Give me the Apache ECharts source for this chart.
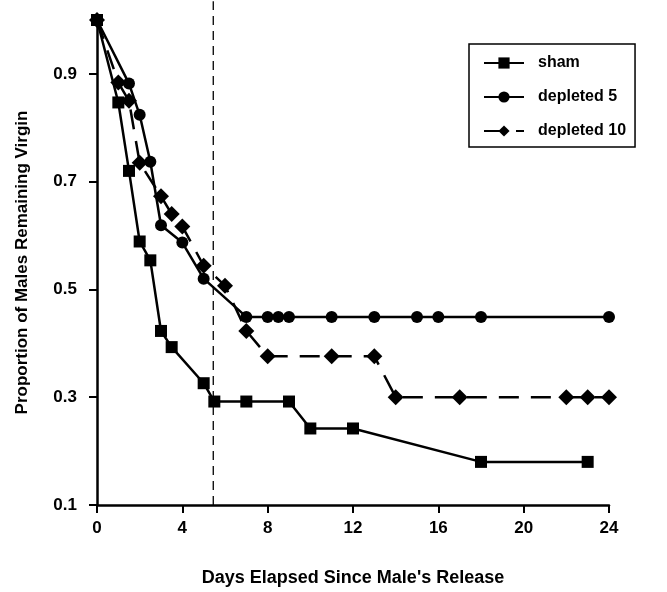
<!DOCTYPE html>
<html><head><meta charset="utf-8">
<script src="https://cdn.jsdelivr.net/npm/echarts@6/dist/echarts.min.js"></script>
<style>html,body{margin:0;padding:0;background:#fff}#c{width:667px;height:592px}</style>
</head><body><div id="c"></div>
<script>
const shamDays = [0,1,1.5,2,2.5,3,3.5,5,5.5,7,9,10,12,18,23];
const shamVals = [1.0,0.847,0.72,0.589,0.554,0.423,0.393,0.326,0.292,0.292,0.292,0.242,0.242,0.18,0.18];
const dep5Days = [0,1.5,2,2.5,3,4,5,7,8,8.5,9,11,13,15,16,18,24];
const dep5Vals = [1.0,0.882,0.824,0.737,0.619,0.587,0.52,0.449,0.449,0.449,0.449,0.449,0.449,0.449,0.449,0.449,0.449];
const dep10Days = [0,1,1.5,2,3,3.5,4,5,6,7,8,11,13,14,17,22,23,24];
const dep10Vals = [1.0,0.884,0.85,0.735,0.673,0.64,0.617,0.544,0.507,0.423,0.376,0.376,0.376,0.3,0.3,0.3,0.3,0.3];
const xTicks = [0,4,8,12,16,20,24];
const yTicks = [0.1,0.3,0.5,0.7,0.9];
const releaseDay = 5.45;
const releaseSpan = [0.1, 1.035];

const pairs = (xs, ys) => xs.map((x, i) => [x, ys[i]]);
const FONT = 'Liberation Sans';
const chart = echarts.init(document.getElementById('c'), null, {renderer: 'canvas'});
chart.setOption({
  animation: false,
  backgroundColor: '#fff',
  grid: {left: 97, right: 58, top: 20, bottom: 87},
  xAxis: {
    type: 'value', min: 0, max: 24, interval: 4,
    name: "Days Elapsed Since Male's Release", nameLocation: 'middle', nameGap: 64,
    nameTextStyle: {fontFamily: FONT, fontWeight: 'bold', fontSize: 18, color: '#000'},
    axisLine: {lineStyle: {color: '#000', width: 2.5}},
    axisTick: {show: true, length: 8, customValues: xTicks, lineStyle: {color: '#000', width: 2}},
    axisLabel: {fontFamily: FONT, fontWeight: 'bold', fontSize: 17, color: '#000', margin: 15, customValues: xTicks},
    splitLine: {show: false}
  },
  yAxis: {
    type: 'value', min: 0.1, max: 1.0,
    name: 'Proportion of Males Remaining Virgin', nameLocation: 'middle', nameGap: 66,
    nameTextStyle: {fontFamily: FONT, fontWeight: 'bold', fontSize: 17, color: '#000'},
    axisLine: {show: true, lineStyle: {color: '#000', width: 2.5}},
    axisTick: {show: true, length: 8, customValues: yTicks, lineStyle: {color: '#000', width: 2}},
    axisLabel: {fontFamily: FONT, fontWeight: 'bold', fontSize: 17, color: '#000', margin: 20,
      customValues: yTicks, formatter: v => v.toFixed(1)},
    splitLine: {show: false}
  },
  legend: {
    orient: 'vertical', left: 469, top: 44,
    backgroundColor: '#fff', borderColor: '#000', borderWidth: 1.5,
    padding: [11, 9, 8, 14], itemWidth: 40, itemHeight: 14, itemGap: 18,
    textStyle: {fontFamily: FONT, fontWeight: 'bold', fontSize: 16, color: '#000', padding: [0, 0, 0, 9]},
    data: ['sham', 'depleted 5', 'depleted 10']
  },
  series: [
    {
      name: 'release', type: 'line', data: pairs([releaseDay, releaseDay], releaseSpan),
      symbol: 'none', clip: false, silent: true,
      lineStyle: {color: '#000', type: [9, 6], width: 1.3}
    },
    {
      name: 'sham', type: 'line', data: pairs(shamDays, shamVals),
      symbol: 'rect', symbolSize: 12, clip: false,
      lineStyle: {color: '#000', width: 2.5}, itemStyle: {color: '#000'}
    },
    {
      name: 'depleted 5', type: 'line', data: pairs(dep5Days, dep5Vals),
      symbol: 'circle', symbolSize: 12, clip: false,
      lineStyle: {color: '#000', width: 2.5}, itemStyle: {color: '#000'}
    },
    {
      name: 'depleted 10', type: 'line', data: pairs(dep10Days, dep10Vals),
      symbol: 'diamond', symbolSize: 16, clip: false,
      lineStyle: {color: '#000', width: 2.5, type: [20, 12]}, itemStyle: {color: '#000'}
    }
  ]
});
</script>
</body></html>
